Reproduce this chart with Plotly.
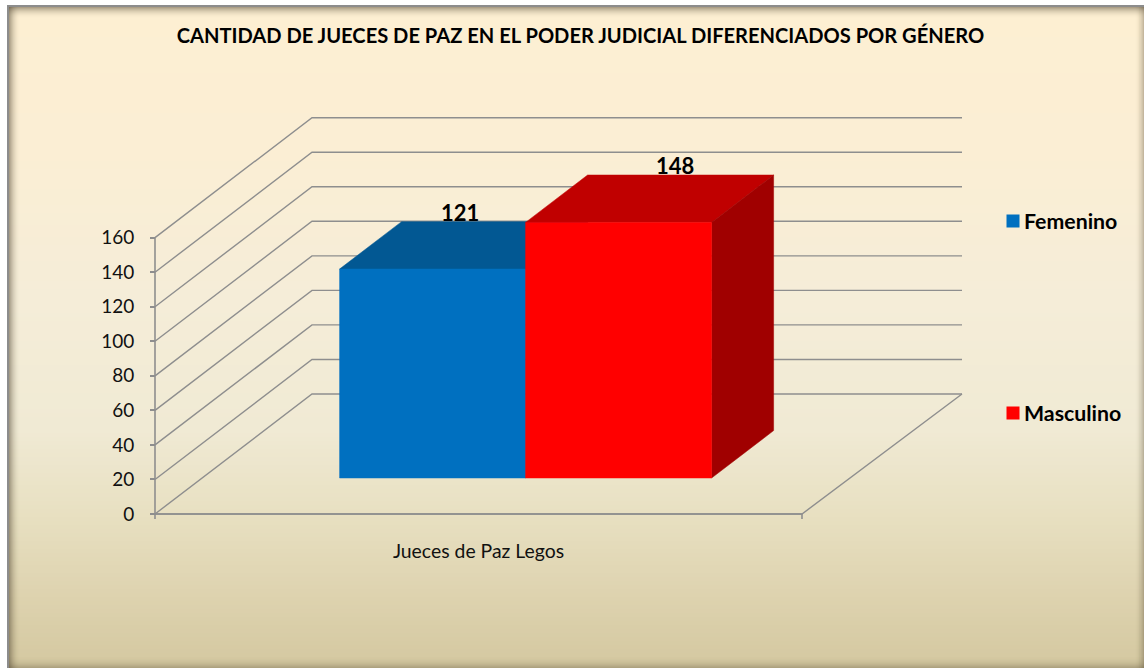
import plotly.graph_objects as go

# --- data ---
categories = ["Jueces de Paz Legos"]
series_names = ["Femenino", "Masculino"]
series_values = [121, 148]
y_ticks = [0, 20, 40, 60, 80, 100, 120, 140, 160]
front_colors = ["#0070C0", "#FF0000"]
top_colors = ["#025893", "#C00000"]
side_colors = ["#014A7C", "#A00000"]

# --- page / projection geometry ---
W, H = 1144, 668
X0_PX, X1_PX = 155, 802
Y0_PX, PX_PER_UNIT = 514, 1.727
UX = X1_PX - X0_PX
DEPTH_X = 157 / UX
DEPTH_Y = 120 / PX_PER_UNIT
BAR_D0, BAR_D1 = 0.30, 0.695
BAR_W = 186 / UX
BACK_EXT = 3 / UX
FONT = "Lato"
GRID = "#8e8e8e"


def px_x(p):
    return (p - X0_PX) / UX


def px_y(p):
    return (Y0_PX - p) / PX_PER_UNIT


def proj(x, v, d):
    return x + d * DEPTH_X, v + d * DEPTH_Y


fig = go.Figure()


def line(points, width=1.4, color=GRID):
    xs, ys = zip(*points)
    fig.add_trace(go.Scatter(x=list(xs), y=list(ys), mode="lines", showlegend=False,
                             hoverinfo="skip", line=dict(color=color, width=width)))


# walls & floor
for t in y_ticks:
    line([proj(0, t, 0), proj(0, t, 1), proj(1 + BACK_EXT, t, 1)])
line([proj(1 + BACK_EXT, 0, 1), proj(1, 0, 0), proj(0, 0, 0)])
line([proj(0, y_ticks[0], 0), proj(0, y_ticks[-1], 0)], width=1.6)
line([proj(0, 0, 0), (0, px_y(519))], width=1.6)
line([proj(1, 0, 0), (1, px_y(519))], width=1.6)
line([proj(0, 0, 0), proj(1, 0, 0)], width=1.6)


def face(pts, color, name=None):
    xs, ys = zip(*pts)
    fig.add_trace(go.Scatter(x=list(xs) + [xs[0]], y=list(ys) + [ys[0]], mode="lines", fill="toself",
                             fillcolor=color, line=dict(color=color, width=0.5), name=name,
                             showlegend=False, hoverinfo="skip"))


for i, (name, v) in enumerate(zip(series_names, series_values)):
    left = 0.5 + (i - 1) * BAR_W
    right = left + BAR_W
    # every face comes from the value through the projection
    face([proj(left, v, BAR_D0), proj(right, v, BAR_D0), proj(right, v, BAR_D1), proj(left, v, BAR_D1)], top_colors[i])
    face([proj(right, 0, BAR_D0), proj(right, 0, BAR_D1), proj(right, v, BAR_D1), proj(right, v, BAR_D0)], side_colors[i])
    face([proj(left, 0, BAR_D0), proj(right, 0, BAR_D0), proj(right, v, BAR_D0), proj(left, v, BAR_D0)], front_colors[i], name)

# value labels
label_dx = [27 / UX, 56 / UX]
annotations = []
for i, v in enumerate(series_values):
    left = 0.5 + (i - 1) * BAR_W
    lx, _ = proj(left + BAR_W / 2, v, BAR_D0)
    ly = proj(0, v, BAR_D1)[1]
    annotations.append(dict(x=lx + label_dx[i], y=ly, text=f"<b>{v}</b>", showarrow=False, xanchor="center",
                            yanchor="bottom", yshift=-6, font=dict(family=FONT, size=22, color="#000000")))

# legend (drawn by hand so the wide vertical spacing matches)
legend_px_y = [221, 413]
for i, name in enumerate(series_names):
    fig.add_trace(go.Scatter(x=[px_x(1013)], y=[px_y(legend_px_y[i])], mode="markers", showlegend=False,
                             hoverinfo="skip", marker=dict(symbol="square", size=13, color=front_colors[i])))
    annotations.append(dict(x=px_x(1022), y=px_y(legend_px_y[i]), text=f"<b>{name}</b>", showarrow=False,
                            xanchor="left", yanchor="middle", font=dict(family=FONT, size=21.3, color="#000000")))

# background: gradient, frame, inner shadow
stops = [(0, (253, 239, 210)), (150, (251, 238, 212)), (300, (245, 237, 216)), (430, (240, 234, 212)),
         (520, (231, 223, 192)), (600, (221, 210, 174)), (668, (212, 200, 160))]


def bg(y):
    for (a, ca), (b, cb) in zip(stops, stops[1:]):
        if a <= y <= b:
            f = (y - a) / (b - a)
            return "rgb(%d,%d,%d)" % tuple(round(p + f * (q - p)) for p, q in zip(ca, cb))
    return "rgb(212,200,160)"


shapes = []


def rect(x0, y0, x1, y1, color):
    shapes.append(dict(type="rect", xref="paper", yref="paper", x0=x0 / W, x1=x1 / W, y0=1 - y0 / H, y1=1 - y1 / H,
                       fillcolor=color, line=dict(width=0), layer="below"))


for y in range(5, H, 4):
    rect(7, y, W, y + 4, bg(y + 2))
rect(7, 5, W, 7, "#8c8c8c")
rect(7, 5, 9, H, "#8c8c8c")
for k in range(11):
    a = 0.45 * (1 - k / 11) ** 2
    c = f"rgba(70,60,40,{a:.3f})"
    soft = f"rgba(70,60,40,{a * 0.6:.3f})"
    rect(9 + k, 7, 10 + k, H, c)
    rect(9, 7 + k, W, 8 + k, c)
    rect(W - 1 - k * 0.8, 7, W - k * 0.8, H, soft)
    rect(9, H - 1 - k, W, H - k, soft)

fig.update_layout(
    width=W, height=H, autosize=False,
    margin=dict(l=0, r=0, t=0, b=0, pad=0),
    paper_bgcolor="#ffffff", plot_bgcolor="rgba(0,0,0,0)",
    showlegend=False, shapes=shapes, annotations=annotations,
    title=dict(text="<b>CANTIDAD DE JUECES DE PAZ EN EL PODER JUDICIAL DIFERENCIADOS POR GÉNERO</b>",
               x=580.5 / W, y=1 - 36 / H, xanchor="center", yanchor="middle",
               font=dict(family=FONT, size=20.1, color="#000000")),
    xaxis=dict(range=[px_x(0), px_x(W)], tickmode="array", tickvals=[0.5], ticktext=categories,
               showgrid=False, zeroline=False, showline=False, ticks="", anchor="free",
               position=1 - Y0_PX / H, ticklabelstandoff=24,
               tickfont=dict(family=FONT, size=19.4, color="#111111")),
    yaxis=dict(range=[px_y(H), px_y(0)], tickmode="array", tickvals=y_ticks, showgrid=False, zeroline=False,
               showline=False, ticks="outside", ticklen=5, tickwidth=1.5, tickcolor=GRID, anchor="free",
               position=X0_PX / W, ticklabelstandoff=12,
               tickfont=dict(family=FONT, size=19, color="#111111")),
)
fig.write_html("out.html", config=dict(displayModeBar=False),
               post_script="document.body.style.margin='0';document.documentElement.style.overflow='hidden';")
